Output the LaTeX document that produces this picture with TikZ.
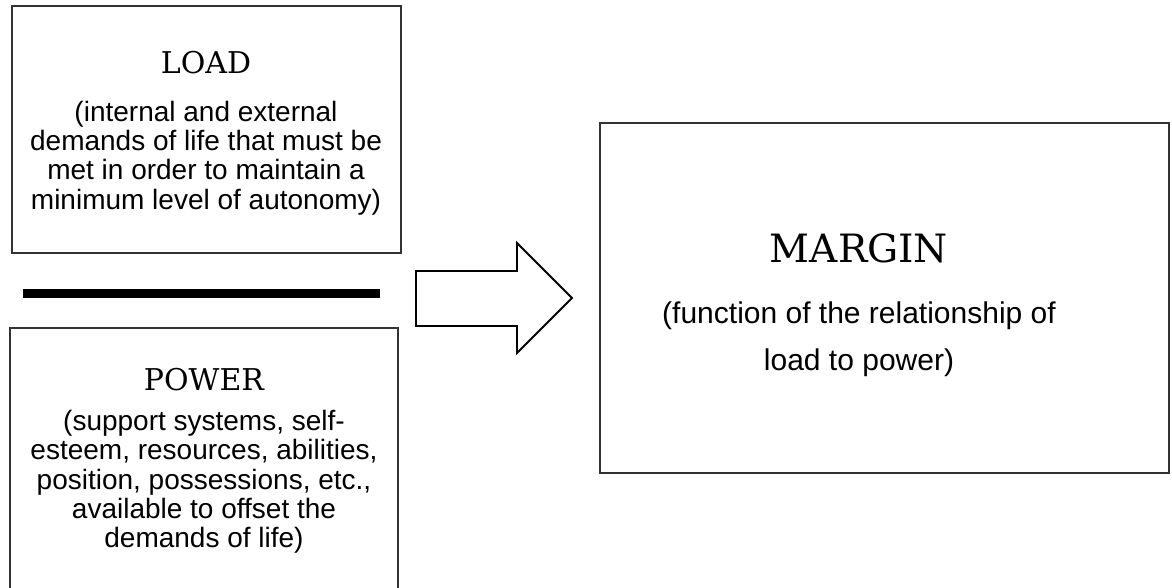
\documentclass[tikz,border=0pt]{standalone}
\usepackage{fontspec}
\setmainfont{Liberation Sans}
\newfontfamily\headfont{DejaVu Serif}
\begin{document}
\begin{tikzpicture}[x=1pt,y=-1pt,
  boxline/.style={draw=black!80,line width=1.8pt},
  head/.style={font=\headfont\fontsize{#1}{#1}\selectfont,inner sep=0pt,anchor=center},
  body/.style={align=center,inner sep=0pt,anchor=center,font=\fontsize{28}{29.3}\selectfont},
  mbody/.style={align=center,inner sep=0pt,anchor=center,font=\fontsize{30}{47}\selectfont}]
\useasboundingbox (0,0) rectangle (1172,588);
\clip (0,0) rectangle (1172,588);
% boxes
\draw[boxline] (12,6) rectangle (401,253);
\draw[boxline] (10,328) rectangle (398,620);
\draw[boxline] (600,123) rectangle (1169,473);
% fraction bar
\coordinate (barL) at (23,293);
\coordinate (barR) at (380,293);
\draw[line width=9pt,black] (barL) -- (barR);
% block arrow
\draw[line width=1.8pt,black,line join=miter]
  (416,271) -- (517,271) -- (517,243) -- (572,298) -- (517,353) -- (517,326) -- (416,326) -- cycle;
% texts
\node[head=30] (loadh) at (206,63) {LOAD};
\node[body] (loadb) at (206,158) {(internal and external\\demands of life that must be\\met in order to maintain a\\minimum level of autonomy)};
\node[head=30] (powerh) at (204,380) {POWER};
\node[body] (powerb) at (204,482) {(support systems, self-\\esteem, resources, abilities,\\position, possessions, etc.,\\available to offset the\\demands of life)};
\node[head=39] (marginh) at (859,248) {MARGIN};
\node[mbody] (marginb) at (859,339) {(function of the relationship of\\load to power)};
\end{tikzpicture}
\end{document}
